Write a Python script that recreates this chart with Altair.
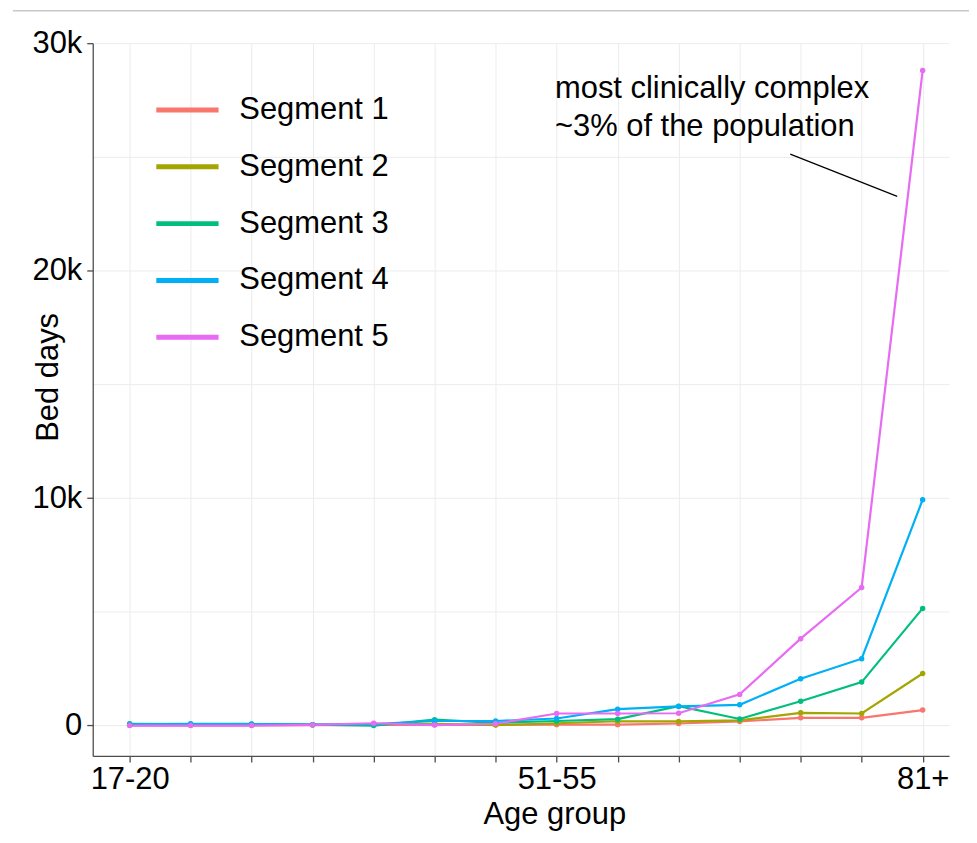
import altair as alt
import pandas as pd

ages = ["17-20", "21-25", "26-30", "31-35", "36-40", "41-45", "46-50",
        "51-55", "56-60", "61-65", "66-70", "71-75", "76-80", "81+"]
segments = ["Segment 1", "Segment 2", "Segment 3", "Segment 4", "Segment 5"]
seg1 = [10, 10, 10, 20, 30, 30, 30, 40, 40, 90, 180, 340, 340, 680]
seg2 = [60, 50, 60, 40, 50, 80, 20, 100, 190, 180, 230, 560, 530, 2290]
seg3 = [80, 60, 70, 40, 0, 260, 120, 200, 280, 850, 290, 1070, 1910, 5150]
seg4 = [50, 80, 60, 40, 60, 200, 200, 310, 720, 840, 910, 2060, 2940, 9930]
seg5 = [0, 0, 0, 30, 100, 20, 80, 530, 530, 540, 1370, 3820, 6070, 28800]
colors = ["#F8766D", "#A3A500", "#00BF7D", "#00B0F6", "#E76BF3"]
y_grid = [0, 5000, 10000, 15000, 20000, 25000, 30000]
shown_ages = ["17-20", "51-55", "81+"]
note_lines = ["most clinically complex", "~3% of the population"]

rows = []
for seg, vals in zip(segments, [seg1, seg2, seg3, seg4, seg5]):
    for a, v in zip(ages, vals):
        rows.append({"age": a, "segment": seg, "bed_days": v})
df = pd.DataFrame(rows)

FONT = "Liberation Sans"
FS = 31
W, H = 859, 715
shown_js = "[" + ",".join("'" + a + "'" for a in shown_ages) + "]"
ages_js = "[" + ",".join("'" + a + "'" for a in ages) + "]"

lines = alt.Chart(df).mark_line(
    strokeWidth=2.2, point=alt.OverlayMarkDef(filled=True, size=30, opacity=1)
).encode(
    x=alt.X("age:O", sort=ages,
            scale=alt.Scale(type="point", padding=0.519, align=0.583),
            axis=alt.Axis(title="Age group", labelAngle=0, labelOverlap=False, grid=True,
                          labelExpr="indexof(" + shown_js + ", datum.value) >= 0 ? datum.value : ''",
                          tickSize=6, labelPadding=3,
                          titleX=463, titleY=68, titleAlign="center",
                          titleBaseline="alphabetic")),
    y=alt.Y("bed_days:Q",
            scale=alt.Scale(domain=[-1337, 30000], nice=False, zero=False),
            axis=alt.Axis(values=y_grid, title="Bed days",
                          labelExpr="datum.value == 0 ? '0' : (datum.value % 10000 == 0 ? (datum.value / 1000) + 'k' : '')",
                          tickOpacity={"condition": {"test": "datum.value % 10000 != 0", "value": 0}, "value": 1},
                          tickSize=6, labelPadding=5,
                          titleX=-35.7, titleY=334.7, titleAngle=270,
                          titleAlign="center", titleBaseline="alphabetic")),
    color=alt.Color("segment:N", sort=segments,
                    scale=alt.Scale(domain=segments, range=colors),
                    legend=alt.Legend(title=None, orient="none", legendX=61, legendY=52,
                                      direction="vertical", symbolType="stroke",
                                      symbolSize=3900, symbolStrokeWidth=5,
                                      labelFontSize=FS, labelFont=FONT, labelColor="black",
                                      labelOffset=18, rowPadding=26, clipHeight=30,
                                      padding=0, labelLimit=400)),
    order=alt.Order("age_idx:Q"),
).transform_calculate(
    age_idx="indexof(" + ages_js + ", datum.age)"
)

one = pd.DataFrame({"k": [0]})

note = alt.Chart(one).mark_text(
    text=note_lines, align="left", baseline="alphabetic", fontSize=FS,
    font=FONT, lineHeight=38, color="black"
).encode(x=alt.value(463.7), y=alt.value(54.7))

pointer = alt.Chart(one).mark_rule(color="black", strokeWidth=1.2).encode(
    x=alt.value(699.7), x2=alt.value(807), y=alt.value(111.3), y2=alt.value(153.7))

border = alt.Chart(one).mark_rule(color="#c8c8c8", strokeWidth=1.5).encode(
    x=alt.value(-80), x2=alt.value(880), y=alt.value(-32.5))

chart = alt.layer(border, lines, note, pointer).properties(
    width=W, height=H,
    padding={"left": 85, "top": 34, "right": 20, "bottom": 80},
    autosize=alt.AutoSizeParams(type="none"),
).configure_view(stroke=None).configure_axis(
    labelFont=FONT, titleFont=FONT, labelFontSize=FS, titleFontSize=FS,
    labelColor="black", titleColor="black", titleFontWeight="normal",
    domainColor="#4d4d4d", tickColor="#4d4d4d", domainWidth=1.3, tickWidth=1.3,
    gridColor="#ececec", gridWidth=1,
)

chart.save("out.html", embed_options={"renderer": "svg", "actions": False})
